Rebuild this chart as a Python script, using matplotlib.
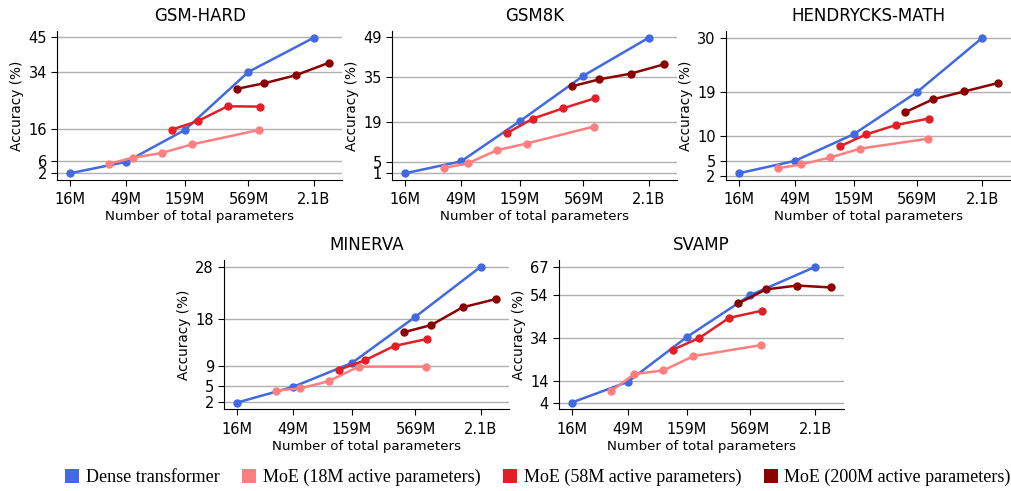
import matplotlib
matplotlib.use("Agg")
import matplotlib.pyplot as plt
from matplotlib.patches import Patch
from matplotlib.ticker import NullLocator

plt.rcParams['font.family'] = ['DejaVu Sans']

# x values: total parameters
dense_params = [16e6, 49e6, 159e6, 569e6, 2.1e9]
moe18_params = [35e6, 56e6, 100e6, 182e6, 700e6]
moe58_params = [122e6, 206e6, 374e6, 716e6]
moe200_params = [448e6, 781e6, 1.46e9, 2.86e9]
x_tick_labels = ['16M', '49M', '159M', '569M', '2.1B']

titles = ['GSM-HARD', 'GSM8K', 'HENDRYCKS-MATH', 'MINERVA', 'SVAMP']

yticks_gsmhard = [2, 6, 16, 34, 45]
yticks_gsm8k = [1, 5, 19, 35, 49]
yticks_math = [2, 5, 10, 19, 30]
yticks_minerva = [2, 5, 9, 18, 28]
yticks_svamp = [4, 14, 34, 54, 67]

dense_gsmhard = [2.0, 5.6, 15.7, 34.1, 44.9]
moe18_gsmhard = [5.0, 6.9, 8.4, 11.1, 15.7]
moe58_gsmhard = [15.8, 18.5, 23.2, 23.1]
moe200_gsmhard = [28.7, 30.5, 33.0, 37.0]

dense_gsm8k = [1.0, 5.2, 19.4, 35.5, 48.9]
moe18_gsm8k = [2.9, 4.5, 9.1, 11.5, 17.5]
moe58_gsm8k = [15.1, 20.3, 23.9, 27.5]
moe200_gsm8k = [31.7, 34.2, 36.2, 39.5]

dense_math = [2.5, 5.0, 10.4, 19.0, 30.0]
moe18_math = [3.5, 4.3, 5.7, 7.5, 9.5]
moe58_math = [8.0, 10.4, 12.3, 13.6]
moe200_math = [14.9, 17.5, 19.1, 20.8]

dense_minerva = [1.9, 4.9, 9.5, 18.4, 28.0]
moe18_minerva = [4.2, 4.6, 6.0, 8.8, 8.8]
moe58_minerva = [8.2, 10.0, 12.8, 14.1]
moe200_minerva = [15.4, 16.8, 20.2, 21.8]

dense_svamp = [4.0, 13.6, 34.3, 53.8, 67.0]
moe18_svamp = [9.3, 17.2, 18.9, 25.5, 30.6]
moe58_svamp = [28.6, 34.0, 43.3, 46.6]
moe200_svamp = [50.0, 56.5, 58.3, 57.4]

series_names = ['Dense transformer', 'MoE (18M active parameters)',
                'MoE (58M active parameters)', 'MoE (200M active parameters)']
colors = ['#4169E1', '#FF7F7F', '#E41E26', '#8B0000']

panels = [
    (yticks_gsmhard, [dense_gsmhard, moe18_gsmhard, moe58_gsmhard, moe200_gsmhard]),
    (yticks_gsm8k, [dense_gsm8k, moe18_gsm8k, moe58_gsm8k, moe200_gsm8k]),
    (yticks_math, [dense_math, moe18_math, moe58_math, moe200_math]),
    (yticks_minerva, [dense_minerva, moe18_minerva, moe58_minerva, moe200_minerva]),
    (yticks_svamp, [dense_svamp, moe18_svamp, moe58_svamp, moe200_svamp]),
]
xs_all = [dense_params, moe18_params, moe58_params, moe200_params]

W, H = 1012, 491
fig = plt.figure(figsize=(W / 100, H / 100), dpi=100)

# axes boxes in pixels: left, top, width, height
boxes = [(57.3, 31, 284.7, 149), (392.3, 31, 284.7, 149), (726, 31, 284.7, 149),
         (224.3, 260, 284.7, 149.3), (559, 260, 284.7, 149.3)]

for (l, t, w, h), title, (yt, ys) in zip(boxes, titles, panels):
    ax = fig.add_axes([l / W, 1 - (t + h) / H, w / W, h / H])
    for xs, yv, c in zip(xs_all, ys, colors):
        ax.plot(xs, yv, '-o', color=c, lw=1.8, ms=5)
    ax.set_xscale('log')
    ax.xaxis.set_minor_locator(NullLocator())
    ax.set_xticks(dense_params)
    ax.set_xticklabels(x_tick_labels)
    ax.set_yticks(yt)
    ax.grid(axis='y', color='#b0b0b0', lw=1)
    ax.set_axisbelow(True)
    for s in ['top', 'right']:
        ax.spines[s].set_visible(False)
    ax.tick_params(labelsize=10.5, length=4)
    ax.tick_params(axis='x', pad=5)
    ax.set_title(title, fontsize=12, pad=7)
    ax.set_xlabel('Number of total parameters', fontsize=9.6, labelpad=2)
    ax.set_ylabel('Accuracy (%)', fontsize=9.8, labelpad=3)

handles = [Patch(facecolor=c, edgecolor='none') for c in colors]
fig.legend(handles, series_names, loc='center left', bbox_to_anchor=(0.048, 0.027),
           ncol=4, frameon=False, handlelength=0.8, handleheight=0.8,
           handletextpad=0.35, columnspacing=1.25,
           prop={'family': 'Liberation Serif', 'size': 13})

fig.savefig('out.png', dpi=100)
